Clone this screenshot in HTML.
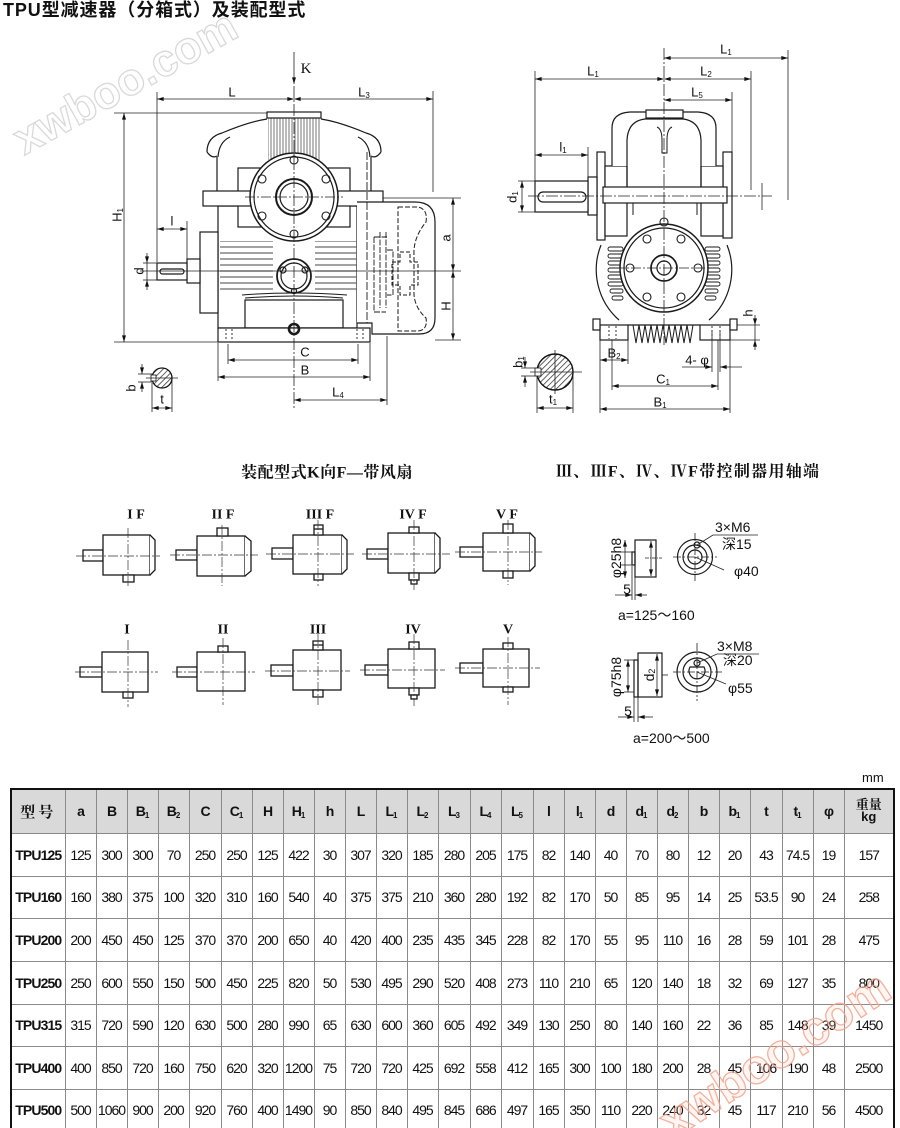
<!DOCTYPE html>
<html><head><meta charset="utf-8">
<style>
html,body{margin:0;padding:0;background:#fff;width:900px;height:1128px;overflow:hidden;position:relative}
.ttl{position:absolute;left:3px;top:0;font:bold 18px/20px "Liberation Sans","Noto Sans CJK SC",sans-serif;color:#111;letter-spacing:0.9px;white-space:nowrap}
.mm{position:absolute;left:862px;top:770px;font:13px "Liberation Sans",sans-serif;color:#111}
table{position:absolute;left:10px;top:788px;border-collapse:collapse;table-layout:fixed;width:883px;border:2.5px solid #111}
td,th{border:1px solid #8a8a8a;padding:0;text-align:center;vertical-align:middle;font:14px "Liberation Sans","Noto Sans CJK SC",sans-serif;letter-spacing:-1px;color:#111;overflow:hidden;white-space:nowrap}
th{background:#d9d9d9;font-weight:bold}
td.m{font-weight:bold;letter-spacing:-0.9px}
sub{font-size:8px;vertical-align:-2px;letter-spacing:0;line-height:0}
svg{position:absolute;left:0;top:0}
</style></head><body>
<div class="ttl">TPU型减速器（分箱式）及装配型式</div>

<svg width="900" height="780" viewBox="0 0 900 780" font-family="Liberation Sans, sans-serif">
<defs>
<marker id="ar" viewBox="0 0 10 6" refX="10" refY="3" markerWidth="8" markerHeight="4" markerUnits="userSpaceOnUse" orient="auto-start-reverse"><path d="M0,0L10,3L0,6z" fill="#111"/></marker>
<pattern id="hat" width="4" height="4" patternUnits="userSpaceOnUse" patternTransform="rotate(45)"><rect width="4" height="4" fill="#fff"/><line x1="0" y1="0" x2="0" y2="4" stroke="#222" stroke-width="1.4"/></pattern>
<pattern id="hr" width="6" height="6" patternUnits="userSpaceOnUse"><line x1="0" y1="1" x2="6" y2="1" stroke="#555" stroke-width="1.1"/></pattern>
<pattern id="vr" width="3" height="4" patternUnits="userSpaceOnUse"><line x1="1" y1="0" x2="1" y2="4" stroke="#666" stroke-width="0.9"/></pattern>
</defs>

<!-- ================= LEFT MAIN VIEW ================= -->
<g fill="none" stroke="#1a1a1a" stroke-width="1.2">
 <rect x="218" y="206" width="139" height="122" fill="#fff"/>
 <rect x="220" y="241" width="53" height="52" fill="url(#hr)" stroke="none"/>
 <rect x="315" y="241" width="42" height="52" fill="url(#hr)" stroke="none"/>
 <rect x="268" y="118" width="52" height="42" fill="url(#vr)" stroke="none"/>
 <rect x="267" y="112" width="54" height="6" fill="#fff"/>
 <path d="M217,192 V157 M207,152 Q207,137 222,133 Q248,122 267,119 M207,152 Q212,159 217,156 M218,157 Q219,142 230,137"/>
 <path d="M371,192 V157 M381,152 Q381,137 366,133 Q340,122 321,119 M381,152 Q376,159 371,156 M370,157 Q369,142 358,137"/>
 <rect x="238" y="168" width="112" height="59" fill="#fff"/>
 <rect x="203" y="191" width="180" height="15" fill="#fff"/>
 <circle cx="294" cy="197" r="44" fill="#fff" stroke-width="1.5"/>
 <circle cx="294" cy="197" r="40"/>
 <circle cx="294" cy="197" r="18" stroke-width="2"/>
 <circle cx="294" cy="197" r="14"/>
 <g stroke-width="1.1">
  <circle cx="294" cy="160" r="4"/><circle cx="262" cy="179" r="4"/><circle cx="326" cy="179" r="4"/>
  <circle cx="262" cy="216" r="4"/><circle cx="326" cy="216" r="4"/><circle cx="294" cy="234" r="4"/>
 </g>
 <circle cx="294" cy="276" r="17" fill="#fff" stroke-width="1.8"/>
 <circle cx="294" cy="276" r="13"/>
 <circle cx="283" cy="270" r="3"/><circle cx="305" cy="270" r="3"/><circle cx="294" cy="291" r="2.5"/>
 <path d="M242,295 Q294,291 347,295 M245,298 Q294,294 343,298" stroke-width="1"/>
 <rect x="245" y="300" width="98" height="28"/>
 <rect x="218" y="328" width="152" height="14" fill="#fff"/>
 <path d="M226,329V341 M232,329V341 M357,329V341 M363,329V341" stroke-dasharray="2 2" stroke-width="0.9"/>
 <circle cx="294" cy="329" r="5" stroke-width="2.6"/>
 <rect x="200" y="232" width="18" height="81" fill="#fff"/>
 <rect x="187" y="259" width="13" height="24" fill="#fff"/>
 <rect x="157" y="263" width="30" height="17" fill="#fff"/>
 <rect x="160" y="269" width="24" height="5" rx="2.5"/>
 <!-- fan cover -->
 <path d="M357,202 H415 Q435,202 435,222 V318 Q435,334 419,334 H372 V323 H357" fill="#fff"/>
 <path d="M367,152 V323" stroke-width="0.9" stroke-dasharray="8 2"/>
 <path d="M398,207 H418 Q428,209 426,222 Q413,238 414,255 V290 Q413,306 426,318 Q428,330 418,331 H398 Z" stroke-dasharray="5 2" stroke-width="1"/>
 <path d="M392,262 H400 V252 H410 V262 H418 V285 H410 V295 H400 V285 H392 Z" stroke-dasharray="4 2" stroke-width="1"/>
 <path d="M374,237 V312 M380,232 V308 M386,232 V308 M374,237 H387 M374,312 H386 M387,250 H393 V295 H387" stroke-width="0.9" stroke-dasharray="6 1.5"/>
</g>
<!-- left dims -->
<g fill="none" stroke="#222" stroke-width="0.8">
 <line x1="294" y1="52" x2="294" y2="84" marker-end="url(#ar)"/>
 <line x1="294" y1="86" x2="294" y2="408" stroke-dasharray="12 2 2 2"/>
 <line x1="245" y1="197" x2="343" y2="197" stroke-dasharray="10 2 2 2"/>
 <line x1="157" y1="92" x2="157" y2="262"/>
 <line x1="157" y1="99" x2="294" y2="99" marker-start="url(#ar)" marker-end="url(#ar)"/>
 <line x1="294" y1="99" x2="433" y2="99" marker-start="url(#ar)" marker-end="url(#ar)"/>
 <line x1="433" y1="91" x2="433" y2="192"/>
 <line x1="124" y1="113" x2="124" y2="342" marker-start="url(#ar)" marker-end="url(#ar)"/>
 <line x1="114" y1="113" x2="267" y2="113"/>
 <line x1="114" y1="342" x2="218" y2="342"/>
 <line x1="140" y1="271" x2="461" y2="271"/>
 <line x1="383" y1="198" x2="461" y2="198"/>
 <line x1="435" y1="340" x2="461" y2="340"/>
 <line x1="453" y1="198" x2="453" y2="271" marker-start="url(#ar)" marker-end="url(#ar)"/>
 <line x1="453" y1="271" x2="453" y2="340" marker-start="url(#ar)" marker-end="url(#ar)"/>
 <line x1="147" y1="253" x2="147" y2="263" marker-end="url(#ar)"/>
 <line x1="147" y1="290" x2="147" y2="280" marker-end="url(#ar)"/>
 <line x1="147" y1="263" x2="147" y2="280"/>
 <line x1="143" y1="263" x2="157" y2="263"/><line x1="143" y1="280" x2="157" y2="280"/>
 <line x1="157" y1="229" x2="187" y2="229" marker-start="url(#ar)" marker-end="url(#ar)"/>
 <line x1="187" y1="221" x2="187" y2="259"/>
 <line x1="228" y1="344" x2="228" y2="364"/><line x1="358" y1="344" x2="358" y2="364"/>
 <line x1="228" y1="360" x2="358" y2="360" marker-start="url(#ar)" marker-end="url(#ar)"/>
 <line x1="218" y1="343" x2="218" y2="381"/><line x1="370" y1="343" x2="370" y2="381"/>
 <line x1="218" y1="377" x2="370" y2="377" marker-start="url(#ar)" marker-end="url(#ar)"/>
 <line x1="387" y1="336" x2="387" y2="405"/>
 <line x1="294" y1="400" x2="387" y2="400" marker-start="url(#ar)" marker-end="url(#ar)"/>
 <!-- key section -->
 <circle cx="162" cy="378" r="10" fill="url(#hat)" stroke="#111" stroke-width="1.3"/>
 <rect x="151" y="375" width="5" height="6" fill="#fff" stroke="#111"/>
 <line x1="146" y1="378" x2="178" y2="378"/>
 <line x1="142" y1="364" x2="142" y2="374" marker-end="url(#ar)"/>
 <line x1="142" y1="392" x2="142" y2="382" marker-end="url(#ar)"/>
 <line x1="138" y1="374" x2="152" y2="374"/><line x1="138" y1="382" x2="152" y2="382"/>
 <line x1="152" y1="383" x2="152" y2="412"/><line x1="172" y1="380" x2="172" y2="412"/>
 <line x1="152" y1="408" x2="172" y2="408" marker-start="url(#ar)" marker-end="url(#ar)"/>
</g>
<g font-size="13" fill="#111" text-anchor="middle" dominant-baseline="central">
 <text x="306" y="69" font-family="Liberation Serif, serif" font-size="15">K</text>
 <text x="232" y="92">L</text>
 <text x="364" y="92">L<tspan font-size="8" dy="3">3</tspan></text>
 <text transform="translate(117,215) rotate(-90)">H<tspan font-size="8" dy="3">1</tspan></text>
 <text x="172" y="221">l</text>
 <text transform="translate(139,271) rotate(-90)">d</text>
 <text transform="translate(446,238) rotate(-90)">a</text>
 <text transform="translate(446,306) rotate(-90)">H</text>
 <text x="305" y="352">C</text>
 <text x="305" y="370">B</text>
 <text x="338" y="392">L<tspan font-size="8" dy="3">4</tspan></text>
 <text transform="translate(131,388) rotate(-90)">b</text>
 <text x="162" y="399">t</text>
</g>

<!-- ================= RIGHT SIDE VIEW ================= -->
<g fill="none" stroke="#1a1a1a" stroke-width="1.2">
 <path d="M601,245 A67,67 0 0 0 619,320 M727,245 A67,67 0 0 1 709,320"/>
 <g stroke-width="0.9">
  <rect x="608" y="247" width="15" height="4" rx="2"/><rect x="608" y="254" width="15" height="4" rx="2"/>
  <rect x="608" y="261" width="15" height="4" rx="2"/><rect x="608" y="268" width="15" height="4" rx="2"/>
  <rect x="608" y="275" width="15" height="4" rx="2"/><rect x="608" y="282" width="15" height="4" rx="2"/>
  <rect x="610" y="289" width="13" height="4" rx="2"/><rect x="612" y="296" width="11" height="4" rx="2"/>
  <rect x="705" y="247" width="15" height="4" rx="2"/><rect x="705" y="254" width="15" height="4" rx="2"/>
  <rect x="705" y="261" width="15" height="4" rx="2"/><rect x="705" y="268" width="15" height="4" rx="2"/>
  <rect x="705" y="275" width="15" height="4" rx="2"/><rect x="705" y="282" width="15" height="4" rx="2"/>
  <rect x="705" y="289" width="13" height="4" rx="2"/><rect x="705" y="296" width="11" height="4" rx="2"/>
 </g>
 <circle cx="664" cy="268" r="44" fill="#fff" stroke-width="1.5"/>
 <circle cx="664" cy="268" r="40"/>
 <circle cx="664" cy="268" r="13" stroke-width="1.7"/>
 <circle cx="664" cy="268" r="7"/>
 <g stroke-width="1.1">
  <circle cx="647" cy="239" r="4"/><circle cx="681" cy="239" r="4"/><circle cx="630" cy="268" r="4"/>
  <circle cx="698" cy="268" r="4"/><circle cx="647" cy="297" r="4"/><circle cx="681" cy="297" r="4"/>
  <circle cx="664" cy="222" r="4"/>
 </g>
 <rect x="597" y="152" width="8" height="88" fill="#fff"/>
 <rect x="723" y="152" width="9" height="86" fill="#fff"/>
 <rect x="605" y="166" width="22" height="70" fill="#fff"/>
 <rect x="701" y="166" width="22" height="70" fill="#fff"/>
 <path d="M612,166 V128 Q612,113 630,112 H698 Q716,113 716,128 V166" fill="#fff"/>
 <path d="M627,187 V140 Q628,121 645,119 H683 Q700,121 701,140 V187"/>
 <rect x="646" y="110" width="37" height="8" fill="#fff"/>
 <path d="M657,127 Q662,129 662,140 V153 H667 V140 Q667,129 672,127" stroke-width="1"/>
 <rect x="603" y="187" width="124" height="16" fill="#fff"/>
 <path d="M633,203 V215 M697,203 V215" stroke-width="1"/>
 <rect x="588" y="177" width="9" height="38" fill="#fff"/>
 <rect x="535" y="181" width="53" height="31" fill="#fff"/>
 <rect x="538" y="192" width="48" height="10" rx="5"/>
 <line x1="628" y1="325" x2="700" y2="325"/>
 <path d="M633,325 L636,343 L639,325 L642,343 L645,325 L648,343 L651,325 L654,343 L657,325 L660,343 L663,325 L666,343 L669,325 L672,343 L675,325 L678,343 L681,325 L684,343 L687,325 L690,343 L693,325" stroke-width="1"/>
 <rect x="600" y="325" width="28" height="15" fill="#fff"/>
 <rect x="700" y="325" width="30" height="15" fill="#fff"/>
 <path d="M609,326V339 M616,326V339 M712,326V339 M720,326V339" stroke-dasharray="2 2" stroke-width="0.9"/>
 <rect x="593" y="319" width="7" height="11" fill="#fff"/>
 <rect x="730" y="319" width="7" height="11" fill="#fff"/>
</g>
<g fill="none" stroke="#222" stroke-width="0.8">
 <line x1="664" y1="48" x2="664" y2="345" stroke-dasharray="12 2 2 2"/>
 <line x1="615" y1="268" x2="713" y2="268" stroke-dasharray="10 2 2 2"/>
 <line x1="528" y1="196" x2="772" y2="196" stroke-dasharray="12 2 2 2"/>
 <line x1="664" y1="58" x2="788" y2="58" marker-start="url(#ar)" marker-end="url(#ar)"/>
 <line x1="788" y1="50" x2="788" y2="200"/>
 <line x1="535" y1="79" x2="664" y2="79" marker-start="url(#ar)" marker-end="url(#ar)"/>
 <line x1="535" y1="71" x2="535" y2="212"/>
 <line x1="664" y1="79" x2="751" y2="79" marker-start="url(#ar)" marker-end="url(#ar)"/>
 <line x1="751" y1="71" x2="751" y2="190"/>
 <line x1="664" y1="100" x2="732" y2="100" marker-start="url(#ar)" marker-end="url(#ar)"/>
 <line x1="732" y1="92" x2="732" y2="155"/>
 <line x1="535" y1="155" x2="588" y2="155" marker-start="url(#ar)" marker-end="url(#ar)"/>
 <line x1="588" y1="147" x2="588" y2="177"/>
 <line x1="522" y1="181" x2="522" y2="212" marker-start="url(#ar)" marker-end="url(#ar)"/>
 <line x1="518" y1="181" x2="535" y2="181"/><line x1="518" y1="212" x2="535" y2="212"/>
 <line x1="762" y1="183" x2="762" y2="210"/>
 <line x1="755" y1="315" x2="755" y2="325" marker-end="url(#ar)"/>
 <line x1="755" y1="350" x2="755" y2="340" marker-end="url(#ar)"/>
 <line x1="755" y1="325" x2="755" y2="340"/>
 <line x1="737" y1="325" x2="760" y2="325"/><line x1="730" y1="340" x2="760" y2="340"/>
 <line x1="600" y1="340" x2="600" y2="413"/><line x1="628" y1="340" x2="628" y2="364"/>
 <line x1="600" y1="360" x2="628" y2="360" marker-start="url(#ar)" marker-end="url(#ar)"/>
 <line x1="712" y1="330" x2="712" y2="372"/><line x1="720" y1="330" x2="720" y2="372"/>
 <line x1="682" y1="367" x2="712" y2="367" marker-end="url(#ar)"/>
 <line x1="742" y1="367" x2="720" y2="367" marker-end="url(#ar)"/>
 <line x1="612" y1="340" x2="612" y2="390"/><line x1="718" y1="340" x2="718" y2="390"/>
 <line x1="612" y1="386" x2="718" y2="386" marker-start="url(#ar)" marker-end="url(#ar)"/>
 <line x1="730" y1="340" x2="730" y2="413"/>
 <line x1="600" y1="409" x2="730" y2="409" marker-start="url(#ar)" marker-end="url(#ar)"/>
 <!-- key section -->
 <circle cx="555" cy="372" r="18" fill="url(#hat)" stroke="#111" stroke-width="1.4"/>
 <rect x="535" y="368" width="6" height="8" fill="#fff" stroke="#111"/>
 <line x1="530" y1="372" x2="582" y2="372"/>
 <line x1="555" y1="350" x2="555" y2="394"/>
 <line x1="525" y1="357" x2="525" y2="368" marker-end="url(#ar)"/>
 <line x1="525" y1="387" x2="525" y2="376" marker-end="url(#ar)"/>
 <line x1="521" y1="368" x2="537" y2="368"/><line x1="521" y1="376" x2="537" y2="376"/>
 <line x1="537" y1="376" x2="537" y2="413"/><line x1="573" y1="372" x2="573" y2="413"/>
 <line x1="537" y1="408" x2="573" y2="408" marker-start="url(#ar)" marker-end="url(#ar)"/>
</g>
<g font-size="13" fill="#111" text-anchor="middle" dominant-baseline="central">
 <text x="726" y="49">L<tspan font-size="8" dy="3">1</tspan></text>
 <text x="593" y="71">L<tspan font-size="8" dy="3">1</tspan></text>
 <text x="706" y="71">L<tspan font-size="8" dy="3">2</tspan></text>
 <text x="697" y="92">L<tspan font-size="8" dy="3">5</tspan></text>
 <text x="563" y="147">l<tspan font-size="8" dy="3">1</tspan></text>
 <text transform="translate(512,197) rotate(-90)">d<tspan font-size="8" dy="3">1</tspan></text>
 <text transform="translate(748,313) rotate(-90)">h</text>
 <text x="614" y="353">B<tspan font-size="8" dy="3">2</tspan></text>
 <text x="697" y="360">4- φ</text>
 <text x="663" y="379">C<tspan font-size="8" dy="3">1</tspan></text>
 <text x="660" y="402">B<tspan font-size="8" dy="3">1</tspan></text>
 <text transform="translate(518,362) rotate(-90)">b<tspan font-size="8" dy="3">1</tspan></text>
 <text x="553" y="399">t<tspan font-size="8" dy="3">1</tspan></text>
</g>

<!-- ================= MOUNTING FORMS ================= -->
<text x="327" y="473" text-anchor="middle" dominant-baseline="central" font-family="Liberation Serif, 'Noto Serif CJK SC', serif" font-weight="bold" font-size="16" letter-spacing="0.5" fill="#111">装配型式K向F—带风扇</text>
<text x="556" y="472" dominant-baseline="central" font-family="Liberation Serif, 'Noto Serif CJK SC', serif" font-weight="bold" font-size="16" letter-spacing="1.3" fill="#111">Ⅲ、ⅢF、Ⅳ、ⅣF带控制器用轴端</text>

<g font-family="Liberation Serif, serif" font-weight="bold" font-size="14" fill="#111" text-anchor="middle" dominant-baseline="central">
 <text x="136" y="515">I F</text><text x="223" y="515">II F</text><text x="320" y="515">III F</text><text x="413" y="515">IV F</text><text x="507" y="515">V F</text>
 <text x="127" y="630">I</text><text x="223" y="630">II</text><text x="318" y="630">III</text><text x="413" y="630">IV</text><text x="508" y="630">V</text>
</g>
<g fill="#fff" stroke="#1a1a1a" stroke-width="1.3">
 <!-- IF -->
 <rect x="83" y="550" width="20" height="11"/><rect x="103" y="535" width="47" height="40"/>
 <path d="M150,535 L155,540 V570 L150,575"/><rect x="123" y="575" width="11" height="7"/>
 <!-- IIF -->
 <rect x="176" y="550" width="21" height="10"/><rect x="197" y="536" width="48" height="40"/>
 <path d="M245,536 L251,541 V571 L245,576"/><rect x="217" y="528" width="11" height="8"/>
 <!-- IIIF -->
 <rect x="272" y="548" width="21" height="11"/><rect x="293" y="535" width="49" height="39"/>
 <path d="M342,535 L347,540 V569 L342,574"/><rect x="314" y="525" width="9" height="10"/><line x1="314" y1="529" x2="323" y2="529"/>
 <rect x="314" y="574" width="9" height="6"/>
 <!-- IVF -->
 <rect x="367" y="549" width="21" height="10"/><rect x="388" y="533" width="47" height="40"/>
 <path d="M435,533 L440,538 V568 L435,573"/><rect x="409" y="527" width="10" height="6"/>
 <rect x="409" y="573" width="10" height="7"/><rect x="411" y="580" width="6" height="4"/>
 <!-- VF -->
 <rect x="460" y="547" width="23" height="10"/><rect x="483" y="533" width="47" height="38"/>
 <path d="M530,533 L535,538 V566 L530,571"/><rect x="503" y="524" width="10" height="9"/><rect x="503" y="571" width="10" height="7"/>
 <!-- I -->
 <rect x="80" y="667" width="22" height="10"/><rect x="102" y="652" width="46" height="40"/><rect x="123" y="692" width="10" height="6"/>
 <!-- II -->
 <rect x="177" y="667" width="20" height="10"/><rect x="197" y="652" width="48" height="39"/><rect x="218" y="646" width="10" height="6"/>
 <!-- III -->
 <rect x="271" y="665" width="22" height="11"/><rect x="293" y="650" width="48" height="40"/>
 <rect x="313" y="641" width="10" height="9"/><line x1="313" y1="645" x2="323" y2="645"/><rect x="313" y="690" width="10" height="7"/>
 <!-- IV -->
 <rect x="365" y="665" width="23" height="10"/><rect x="388" y="649" width="47" height="39"/>
 <rect x="409" y="642" width="10" height="7"/><rect x="409" y="688" width="10" height="7"/><rect x="411" y="695" width="6" height="4"/>
 <!-- V -->
 <rect x="460" y="663" width="23" height="10"/><rect x="483" y="649" width="46" height="38"/>
 <rect x="503" y="643" width="10" height="6"/><rect x="503" y="687" width="10" height="5"/>
</g>
<g stroke="#333" stroke-width="0.7" stroke-dasharray="10 2 2 2" fill="none">
 <line x1="76" y1="556" x2="160" y2="556"/><line x1="128" y1="528" x2="128" y2="588"/>
 <line x1="170" y1="555" x2="258" y2="555"/><line x1="222" y1="525" x2="222" y2="586"/>
 <line x1="266" y1="554" x2="354" y2="554"/><line x1="318" y1="520" x2="318" y2="586"/>
 <line x1="362" y1="554" x2="450" y2="554"/><line x1="414" y1="520" x2="414" y2="590"/>
 <line x1="455" y1="552" x2="542" y2="552"/><line x1="508" y1="520" x2="508" y2="585"/>
 <line x1="75" y1="672" x2="158" y2="672"/><line x1="128" y1="640" x2="128" y2="707"/>
 <line x1="172" y1="672" x2="255" y2="672"/><line x1="223" y1="638" x2="223" y2="705"/>
 <line x1="265" y1="671" x2="350" y2="671"/><line x1="318" y1="634" x2="318" y2="705"/>
 <line x1="360" y1="670" x2="445" y2="670"/><line x1="414" y1="634" x2="414" y2="706"/>
 <line x1="455" y1="668" x2="540" y2="668"/><line x1="508" y1="637" x2="508" y2="705"/>
</g>

<!-- ================= SHAFT END DETAILS ================= -->
<g fill="none" stroke="#1a1a1a" stroke-width="1.2">
 <rect x="632" y="552" width="3" height="13"/>
 <rect x="635" y="540" width="21" height="37"/>
 <circle cx="695" cy="557" r="17.5"/><circle cx="695" cy="557" r="12"/><circle cx="695" cy="557" r="7"/>
 <circle cx="697" cy="545" r="3"/>
 <rect x="634" y="660" width="4" height="37"/>
 <rect x="638" y="653" width="24" height="44"/>
 <circle cx="697" cy="672" r="20"/><circle cx="697" cy="672" r="14"/>
 <path d="M690,667 A8,8 0 1 0 704,667 Z"/>
 <circle cx="697" cy="663" r="3"/>
</g>
<g fill="none" stroke="#222" stroke-width="0.8">
 <line x1="625" y1="540" x2="625" y2="578" marker-start="url(#ar)" marker-end="url(#ar)"/>
 <line x1="621" y1="552" x2="632" y2="552"/><line x1="621" y1="565" x2="632" y2="565"/>
 <line x1="651" y1="541" x2="651" y2="576" marker-start="url(#ar)" marker-end="url(#ar)"/>
 <line x1="645" y1="558" x2="662" y2="558" stroke-dasharray="4 1 1 1"/>
 <line x1="632" y1="566" x2="632" y2="600"/><line x1="635" y1="577" x2="635" y2="600"/>
 <line x1="615" y1="595" x2="632" y2="595" marker-end="url(#ar)"/>
 <line x1="647" y1="595" x2="635" y2="595" marker-end="url(#ar)"/>
 <line x1="673" y1="557" x2="717" y2="557" stroke-dasharray="8 2 2 2"/>
 <line x1="695" y1="533" x2="695" y2="581" stroke-dasharray="8 2 2 2"/>
 <path d="M697,545 L713,535 H758"/>
 <line x1="695" y1="557" x2="724" y2="570"/>
 <line x1="628" y1="660" x2="628" y2="692" marker-start="url(#ar)" marker-end="url(#ar)"/>
 <line x1="624" y1="660" x2="634" y2="660"/><line x1="624" y1="692" x2="634" y2="692"/>
 <line x1="657" y1="654" x2="657" y2="696" marker-start="url(#ar)" marker-end="url(#ar)"/>
 <line x1="634" y1="697" x2="634" y2="722"/><line x1="638" y1="697" x2="638" y2="722"/>
 <line x1="618" y1="717" x2="634" y2="717" marker-end="url(#ar)"/>
 <line x1="653" y1="717" x2="638" y2="717" marker-end="url(#ar)"/>
 <line x1="662" y1="675" x2="668" y2="675"/>
 <line x1="673" y1="672" x2="722" y2="672" stroke-dasharray="8 2 2 2"/>
 <line x1="697" y1="643" x2="697" y2="701" stroke-dasharray="8 2 2 2"/>
 <path d="M697,663 L717,654 H759"/>
 <line x1="697" y1="672" x2="726" y2="684"/>
</g>
<g font-size="14" fill="#111" dominant-baseline="central" font-family="Liberation Sans, 'Noto Sans CJK SC', sans-serif">
 <text transform="translate(616,558) rotate(-90)" text-anchor="middle">φ25h8</text>
 <text x="627" y="589" text-anchor="middle">5</text>
 <text x="715" y="527">3×M6</text>
 <text x="722" y="544">深15</text>
 <text x="734" y="571">φ40</text>
 <text x="618" y="615">a=125～160</text>
 <text transform="translate(616,677) rotate(-90)" text-anchor="middle">φ75h8</text>
 <text transform="translate(649,675) rotate(-90)" text-anchor="middle">d<tspan font-size="9" dy="3">2</tspan></text>
 <text x="628" y="711" text-anchor="middle">5</text>
 <text x="717" y="646">3×M8</text>
 <text x="723" y="660">深20</text>
 <text x="728" y="688">φ55</text>
 <text x="633" y="738">a=200～500</text>
</g>
</svg>

<div class="mm">mm</div>
<table>
<colgroup>
<col style="width:54px"><col style="width:31px"><col style="width:31px"><col style="width:31px"><col style="width:31px"><col style="width:32px"><col style="width:31px"><col style="width:31px"><col style="width:31px"><col style="width:31px"><col style="width:31px"><col style="width:31px"><col style="width:31px"><col style="width:32px"><col style="width:31px"><col style="width:32px"><col style="width:31px"><col style="width:31px"><col style="width:31px"><col style="width:31px"><col style="width:31px"><col style="width:31px"><col style="width:31px"><col style="width:32px"><col style="width:31px"><col style="width:31px"><col style="width:50px">
</colgroup>
<tr style="height:44px"><th style="font-family:'Liberation Serif','Noto Serif CJK SC',serif;font-size:15px;letter-spacing:3px">型号</th><th>a</th><th>B</th><th>B<sub>1</sub></th><th>B<sub>2</sub></th><th>C</th><th>C<sub>1</sub></th><th>H</th><th>H<sub>1</sub></th><th>h</th><th>L</th><th>L<sub>1</sub></th><th>L<sub>2</sub></th><th>L<sub>3</sub></th><th>L<sub>4</sub></th><th>L<sub>5</sub></th><th>l</th><th>l<sub>1</sub></th><th>d</th><th>d<sub>1</sub></th><th>d<sub>2</sub></th><th>b</th><th>b<sub>1</sub></th><th>t</th><th>t<sub>1</sub></th><th>φ</th><th style="font-size:13px;line-height:12px;letter-spacing:0"><span style="font-family:'Liberation Serif','Noto Serif CJK SC',serif">重量</span><br>kg</th></tr>
<tr style="height:43px"><td class="m">TPU125</td><td>125</td><td>300</td><td>300</td><td>70</td><td>250</td><td>250</td><td>125</td><td>422</td><td>30</td><td>307</td><td>320</td><td>185</td><td>280</td><td>205</td><td>175</td><td>82</td><td>140</td><td>40</td><td>70</td><td>80</td><td>12</td><td>20</td><td>43</td><td>74.5</td><td>19</td><td>157</td></tr>
<tr style="height:42px"><td class="m">TPU160</td><td>160</td><td>380</td><td>375</td><td>100</td><td>320</td><td>310</td><td>160</td><td>540</td><td>40</td><td>375</td><td>375</td><td>210</td><td>360</td><td>280</td><td>192</td><td>82</td><td>170</td><td>50</td><td>85</td><td>95</td><td>14</td><td>25</td><td>53.5</td><td>90</td><td>24</td><td>258</td></tr>
<tr style="height:43px"><td class="m">TPU200</td><td>200</td><td>450</td><td>450</td><td>125</td><td>370</td><td>370</td><td>200</td><td>650</td><td>40</td><td>420</td><td>400</td><td>235</td><td>435</td><td>345</td><td>228</td><td>82</td><td>170</td><td>55</td><td>95</td><td>110</td><td>16</td><td>28</td><td>59</td><td>101</td><td>28</td><td>475</td></tr>
<tr style="height:43px"><td class="m">TPU250</td><td>250</td><td>600</td><td>550</td><td>150</td><td>500</td><td>450</td><td>225</td><td>820</td><td>50</td><td>530</td><td>495</td><td>290</td><td>520</td><td>408</td><td>273</td><td>110</td><td>210</td><td>65</td><td>120</td><td>140</td><td>18</td><td>32</td><td>69</td><td>127</td><td>35</td><td>800</td></tr>
<tr style="height:42px"><td class="m">TPU315</td><td>315</td><td>720</td><td>590</td><td>120</td><td>630</td><td>500</td><td>280</td><td>990</td><td>65</td><td>630</td><td>600</td><td>360</td><td>605</td><td>492</td><td>349</td><td>130</td><td>250</td><td>80</td><td>140</td><td>160</td><td>22</td><td>36</td><td>85</td><td>148</td><td>39</td><td>1450</td></tr>
<tr style="height:43px"><td class="m">TPU400</td><td>400</td><td>850</td><td>720</td><td>160</td><td>750</td><td>620</td><td>320</td><td>1200</td><td>75</td><td>720</td><td>720</td><td>425</td><td>692</td><td>558</td><td>412</td><td>165</td><td>300</td><td>100</td><td>180</td><td>200</td><td>28</td><td>45</td><td>106</td><td>190</td><td>48</td><td>2500</td></tr>
<tr style="height:43px"><td class="m">TPU500</td><td>500</td><td>1060</td><td>900</td><td>200</td><td>920</td><td>760</td><td>400</td><td>1490</td><td>90</td><td>850</td><td>840</td><td>495</td><td>845</td><td>686</td><td>497</td><td>165</td><td>350</td><td>110</td><td>220</td><td>240</td><td>32</td><td>45</td><td>117</td><td>210</td><td>56</td><td>4500</td></tr>
</table>

<svg width="900" height="1128" viewBox="0 0 900 1128" style="pointer-events:none" font-family="Liberation Sans, sans-serif" font-weight="bold">
 <text x="125" y="82" text-anchor="middle" dominant-baseline="central" font-size="45" fill="none" stroke="#d9d9d9" stroke-width="1.3" transform="rotate(-29 125 82)">xwboo.com</text>
 <text x="775" y="1055" text-anchor="middle" dominant-baseline="central" font-size="48" fill="rgba(255,190,170,0.18)" stroke="#f2a48c" stroke-width="1.3" opacity="0.85" transform="rotate(-33 775 1055)">xwboo.com</text>
</svg>
</body></html>
